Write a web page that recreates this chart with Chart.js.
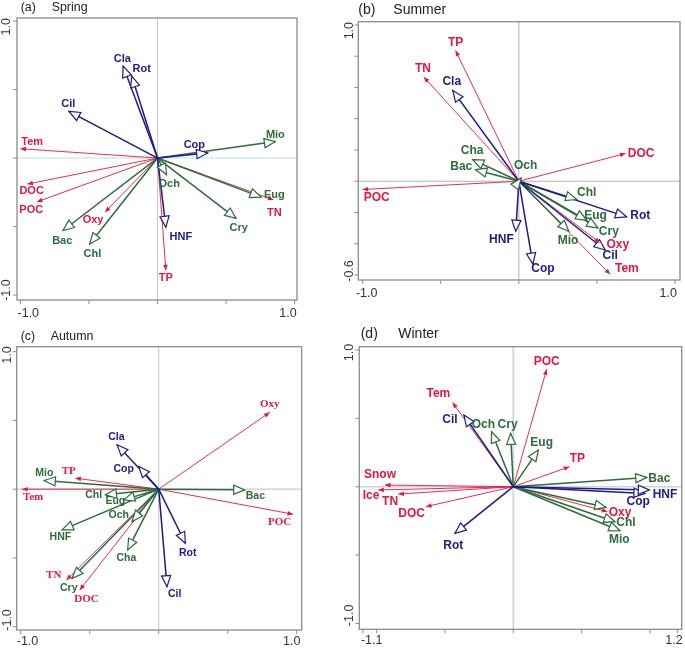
<!DOCTYPE html>
<html><head><meta charset="utf-8">
<script src="https://cdn.jsdelivr.net/npm/chart.js@4"></script>
<style>
html,body{margin:0;padding:0;background:#fff;}
body{width:685px;height:648px;position:relative;overflow:hidden;}
canvas{position:absolute;left:0;top:0;}
</style>
</head><body>
<canvas id="cA" width="685" height="648"></canvas>
<canvas id="cB" width="685" height="648"></canvas>
<canvas id="cC" width="685" height="648"></canvas>
<canvas id="cD" width="685" height="648"></canvas>
<script>
// ---------- DATA ----------
// group: b = blue (zooplankton / protozoa), g = green (phytoplankton / microbes), r = environmental variables
const springNames = ['Cla','Rot','Cil','Cop','HNF','Mio','Och','Eug','Cry','Chl','Bac','Tem','DOC','POC','Oxy','TP','TN'];
const springGroup = ['b','b','b','b','b','g','g','g','g','g','g','r','r','r','r','r','r'];
const springX = [-0.251,-0.188,-0.646,0.366,0.061,0.860,0.066,0.756,0.573,-0.495,-0.690,-1.000,-0.950,-0.880,-0.383,0.061,0.846];
const springY = [0.671,0.598,0.340,0.037,-0.505,0.120,-0.122,-0.285,-0.440,-0.627,-0.529,0.068,-0.190,-0.320,-0.395,-0.820,-0.305];

const summerNames = ['Cla','HNF','Cop','Rot','Cil','Cha','Bac','Och','Chl','Eug','Cry','Mio','TP','TN','DOC','POC','Oxy','Tem'];
const summerGroup = ['b','b','b','b','b','g','g','g','g','g','g','g','r','r','r','r','r','r'];
const summerX = [-0.423,-0.020,0.090,0.690,0.553,-0.295,-0.277,0.015,0.371,0.435,0.506,0.320,-0.405,-0.608,0.683,-1.000,0.520,0.585];
const summerY = [0.580,-0.320,-0.530,-0.228,-0.440,0.138,0.074,0.020,-0.117,-0.250,-0.298,-0.320,0.836,0.666,0.177,-0.053,-0.394,-0.596];

const autumnNames = ['Cla','Cop','Rot','Cil','Mio','Chl','Eug','Och','HNF','Cha','Cry','Bac','Oxy','TP','Tem','POC','TN','DOC'];
const autumnGroup = ['b','b','b','b','g','g','g','g','g','g','g','g','r','r','r','r','r','r'];
const autumnX = [-0.302,-0.145,0.193,0.060,-0.829,-0.386,-0.254,-0.193,-0.700,-0.225,-0.628,0.623,0.804,-0.604,-0.990,0.973,-0.669,-0.572];
const autumnY = [0.323,0.165,-0.393,-0.709,0.063,-0.041,-0.078,-0.235,-0.296,-0.442,-0.648,-0.005,0.558,0.080,0.000,-0.182,-0.660,-0.733];

const winterNames = ['Cil','Cop','HNF','Rot','Och','Cry','Eug','Bac','Chl','Mio','Cha','POC','Tem','TP','Oxy','Snow','Ice','TN','DOC'];
const winterGroup = ['b','b','b','b','g','g','g','g','g','g','g','r','r','r','r','r','r','r','r'];
const winterX = [-0.361,0.963,0.995,-0.427,-0.159,-0.020,0.183,0.976,0.744,0.780,0.678,0.244,-0.444,0.410,0.688,-0.939,-0.988,-0.841,-0.639];
const winterY = [0.524,-0.049,-0.024,-0.341,0.402,0.390,0.268,0.068,-0.256,-0.322,-0.151,0.859,0.615,0.146,-0.183,0.012,-0.024,-0.054,-0.146];

// tick values and tick labels
const ticksHalf = [-1,-0.5,0,0.5,1];
const summerYTicks = [-0.6,-0.4,-0.2,0,0.2,0.4,0.6,0.8,1.0];
const winterXTicks = [-1.1,-1,-0.5,0,0.5,1,1.2];
const springTickLabels = {x:[[-1,'-1.0'],[1,'1.0']], y:[[-1,'-1.0'],[1,'1.0']]};
const summerTickLabels = {x:[[-1,'-1.0'],[1,'1.0']], y:[[-0.6,'-0.6'],[1,'1.0']]};
const autumnTickLabels = {x:[[-1,'-1.0'],[1,'1.0']], y:[[-1,'-1.0'],[1,'1.0']]};
const winterTickLabels = {x:[[-1.1,'-1.1'],[1.2,'1.2']], y:[[-1,'-1.0'],[1,'1.0']]};

// ---------- LAYOUT / STYLE ----------
const COLORS = {b:'#1b1b8a', g:'#2d6b3d', r:'#e3163e'};
const W = 685, H = 648;

const layoutA = {
  box:[17,18,297,300], xlim:[-1.0255,1.018], ylim:[-1.036,1.022],
  letter:'(a)', season:'Spring', titleSize:12.4, letterX:20.7, seasonX:51.7, titleY:7.5,
  labelSize:11, envSerif:false,
  vLine:['#c8c8c8',1], hLine:['#b9dde9',1],
  xLabY:313.3, xLabDx:[7.8,-6.5], yLabX:6.7, yLabDy:[-5,5.7],
  off:{Cla:[-0.7,-6.7],Rot:[10,-6.7],Cil:[-0.7,-7.7],Cop:[-13.3,-8.3],HNF:[15,10],Mio:[0,-6.7],Och:[2.7,9.3],
       Eug:[13.3,-2.3],Cry:[2.7,10],Chl:[2.7,10],Bac:[-0.7,10],Tem:[11.7,-6.3],DOC:[4.3,6.7],POC:[-5.7,7.7],
       Oxy:[-12,8.3],TP:[0,7.7],TN:[1,13.3]}
};
const layoutB = {
  box:[358.3,21.7,680,280], xlim:[-1.028,1.032], ylim:[-0.632,1.021],
  letter:'(b)', season:'Summer', titleSize:14, letterX:358.3, seasonX:393.3, titleY:10,
  labelSize:12, envSerif:false,
  vLine:['#b4b4b4',1], hLine:['#b4b4b4',1],
  xLabY:293.3, xLabDx:[4,-6.7], yLabX:350, yLabDy:[-4,5.7],
  off:{TP:[0,-8.3],TN:[-1,-8],Cla:[-1,-9],Cha:[-0.7,-9.3],Bac:[-14.3,-3.3],Och:[4.4,-12],DOC:[15.7,0.3],
       POC:[14,8.3],Chl:[10,-6.7],Rot:[13.7,-1.3],Eug:[8.7,-4.3],Cry:[11,4],Mio:[-0.7,9.3],Oxy:[17.7,1.7],
       Cil:[5,6],Tem:[16.7,-5.7],HNF:[-14.3,8.3],Cop:[10,4.3]}
};
const layoutC = {
  box:[16.7,346.7,301.7,630], xlim:[-1.029,1.036], ylim:[-1.024,1.036],
  letter:'(c)', season:'Autumn', titleSize:12.4, letterX:20.7, seasonX:50.7, titleY:336.7,
  labelSize:10.5, envSerif:true,
  vLine:['#c4c4c4',1], hLine:['#dadada',2],
  xLabY:641.7, xLabDx:[6.8,-5], yLabX:7.3, yLabDy:[-6.7,3.3],
  off:{Oxy:[0,-8.7],Cla:[-0.7,-7.7],Cop:[-15,2.7],Mio:[0,-7.3],TP:[-6.7,-6.7],Tem:[11,8.3],Chl:[-11.7,0],
       Eug:[-8.3,1.7],Bac:[10.7,6.7],POC:[-13.3,7.7],Och:[-13.3,-6.7],HNF:[-1.7,7.3],Cha:[-1.3,7.7],
       Rot:[2.3,10],Cil:[7.7,7.3],TN:[-12.7,-4.7],Cry:[-3.3,10.3],DOC:[6.7,8.7]}
};
const layoutD = {
  box:[359.3,346.7,681.7,629.3], xlim:[-1.127,1.232], ylim:[-1.043,1.024],
  letter:'(d)', season:'Winter', titleSize:14, letterX:360.7, seasonX:398.3, titleY:334,
  labelSize:12, envSerif:false,
  vLine:['#d6d6d6',2], hLine:['#d2d2d2',1.5],
  xLabY:641, xLabDx:[8.7,-3.3], yLabX:349.3, yLabDy:[-8,2.5],
  off:{Cil:[-14,5],Cop:[-6.7,8.4],HNF:[15.7,5],Rot:[-1.7,12.7],Och:[-8.3,-6.7],Cry:[-3,-8.3],Eug:[3.3,-7.7],
       Bac:[12.6,1.7],Chl:[11,1],Mio:[-0.7,9.3],Cha:null,POC:[0,-7.7],Tem:[-14.3,-8.7],TP:[8,-7.7],
       Oxy:[12.7,0.6],Snow:[-5,-10],Ice:[-7.3,5.7],TN:[-8.3,7.7],DOC:[-14.3,7.3]}
};

function line(ctx,x1,y1,x2,y2){ctx.beginPath();ctx.moveTo(x1,y1);ctx.lineTo(x2,y2);ctx.stroke();}

function biplotPlugin(L, names, groups, xTicks, yTicks, tickLabels) {
  return {
    id: 'biplot',
    beforeDatasetsDraw(chart) {
      const {ctx, chartArea:a, scales:{x, y}} = chart;
      const x0 = x.getPixelForValue(0), y0 = y.getPixelForValue(0);
      ctx.save();
      ctx.strokeStyle = L.vLine[0]; ctx.lineWidth = L.vLine[1];
      line(ctx, x0, a.top, x0, a.bottom);
      ctx.strokeStyle = L.hLine[0]; ctx.lineWidth = L.hLine[1];
      line(ctx, a.left, y0, a.right, y0);
      ctx.restore();
    },
    afterDatasetsDraw(chart) {
      const {ctx, chartArea:a, scales:{x, y}} = chart;
      ctx.save();
      // arrow heads
      chart.data.datasets.forEach((ds, i) => {
        const meta = chart.getDatasetMeta(i);
        const p0 = meta.data[0], p1 = meta.data[1];
        const ang = Math.atan2(p1.y - p0.y, p1.x - p0.x);
        const c = Math.cos(ang), s = Math.sin(ang);
        const env = ds.grp === 'r';
        const len = env ? 5.5 : 11, hw = env ? 2.3 : 4.6;
        const bx = p1.x - c*len, by = p1.y - s*len;
        ctx.beginPath();
        ctx.moveTo(p1.x, p1.y);
        ctx.lineTo(bx - s*hw, by + c*hw);
        ctx.lineTo(bx + s*hw, by - c*hw);
        ctx.closePath();
        if (env) { ctx.fillStyle = ds.borderColor; ctx.fill(); }
        else { ctx.fillStyle = '#fff'; ctx.fill(); ctx.strokeStyle = ds.borderColor; ctx.lineWidth = 1.2; ctx.lineJoin='miter'; ctx.stroke(); }
      });
      // labels
      ctx.textAlign = 'center'; ctx.textBaseline = 'middle';
      chart.data.datasets.forEach((ds, i) => {
        const o = L.off[names[i]];
        if (!o) return;
        const p1 = chart.getDatasetMeta(i).data[1];
        const env = ds.grp === 'r';
        ctx.font = (env && L.envSerif)
          ? 'bold ' + (L.labelSize + 0.5) + 'px "Liberation Serif", "Times New Roman", serif'
          : 'bold ' + L.labelSize + 'px "Liberation Sans", Arial, Helvetica, sans-serif';
        ctx.fillStyle = ds.borderColor;
        ctx.fillText(names[i], p1.x + o[0], p1.y + o[1]);
      });
      // frame
      ctx.strokeStyle = '#8c8c8c'; ctx.lineWidth = 1.3;
      ctx.strokeRect(a.left, a.top, a.right - a.left, a.bottom - a.top);
      // tick marks
      ctx.lineWidth = 1;
      xTicks.forEach(v => { const px = x.getPixelForValue(v); line(ctx, px, a.bottom, px, a.bottom + 4); });
      yTicks.forEach(v => { const py = y.getPixelForValue(v); line(ctx, a.left - 4, py, a.left, py); });
      // tick labels
      ctx.fillStyle = '#333';
      ctx.font = '12.5px "Liberation Sans", Arial, Helvetica, sans-serif';
      tickLabels.x.forEach((t, k) => {
        ctx.fillText(t[1], x.getPixelForValue(t[0]) + L.xLabDx[k], L.xLabY);
      });
      tickLabels.y.forEach((t, k) => {
        ctx.save();
        ctx.translate(L.yLabX, y.getPixelForValue(t[0]) + L.yLabDy[k]);
        ctx.rotate(-Math.PI/2);
        ctx.fillText(t[1], 0, 0);
        ctx.restore();
      });
      // title
      ctx.textAlign = 'left'; ctx.fillStyle = '#222';
      ctx.font = L.titleSize + 'px "Liberation Sans", Arial, Helvetica, sans-serif';
      ctx.fillText(L.letter, L.letterX, L.titleY);
      ctx.fillText(L.season, L.seasonX, L.titleY);
      ctx.restore();
    }
  };
}

function makePanel(canvasId, L, names, groups, xs, ys, xTicks, yTicks, tickLabels) {
  const datasets = names.map((n, i) => ({
    type: 'line',
    label: n,
    grp: groups[i],
    data: [{x:0, y:0}, {x:xs[i], y:ys[i]}],
    borderColor: COLORS[groups[i]],
    borderWidth: groups[i] === 'r' ? 0.9 : 1.5,
    pointRadius: 0,
    pointHoverRadius: 0,
    fill: false,
    tension: 0,
    clip: false
  }));
  const [bl, bt, br, bb] = L.box;
  new Chart(document.getElementById(canvasId), {
    type: 'scatter',
    data: { datasets },
    options: {
      responsive: false,
      animation: false,
      events: [],
      layout: { padding: { left: bl, top: bt, right: W - br, bottom: H - bb } },
      plugins: { legend: { display: false }, tooltip: { enabled: false } },
      scales: {
        x: { type: 'linear', min: L.xlim[0], max: L.xlim[1], display: false },
        y: { type: 'linear', min: L.ylim[0], max: L.ylim[1], display: false }
      }
    },
    plugins: [biplotPlugin(L, names, groups, xTicks, yTicks, tickLabels)]
  });
}

makePanel('cA', layoutA, springNames, springGroup, springX, springY, ticksHalf, ticksHalf, springTickLabels);
makePanel('cB', layoutB, summerNames, summerGroup, summerX, summerY, ticksHalf, summerYTicks, summerTickLabels);
makePanel('cC', layoutC, autumnNames, autumnGroup, autumnX, autumnY, ticksHalf, ticksHalf, autumnTickLabels);
makePanel('cD', layoutD, winterNames, winterGroup, winterX, winterY, winterXTicks, ticksHalf, winterTickLabels);
</script>
</body></html>
